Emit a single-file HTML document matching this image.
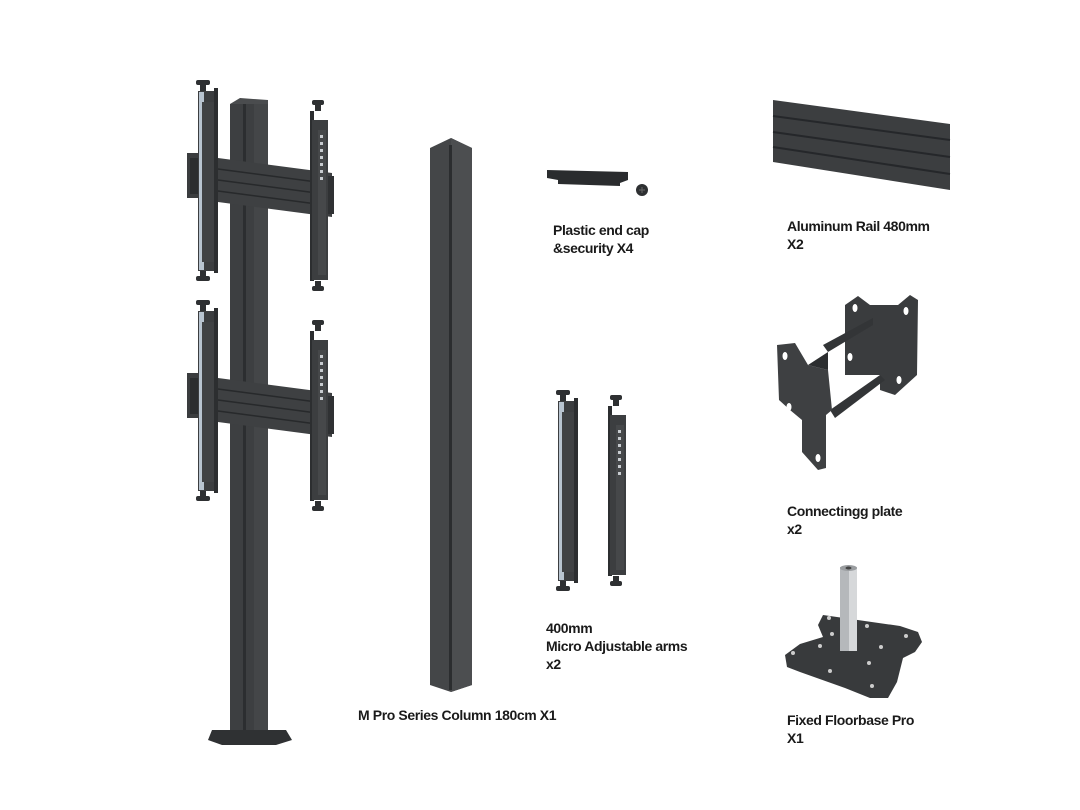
<!DOCTYPE html>
<html><head><meta charset="utf-8"><style>
html,body{margin:0;padding:0;background:#fff;}
svg{display:block;}
text{font-family:"Liberation Sans",sans-serif;font-weight:bold;font-size:14px;letter-spacing:-0.4px;fill:#1a1a1a;}
</style></head><body>
<svg width="1080" height="810" viewBox="0 0 1080 810" xmlns="http://www.w3.org/2000/svg">
<defs>
<g id="armL">
 <rect x="-4" y="0" width="14" height="5" rx="2" fill="#2e3032"/>
 <rect x="0" y="5" width="6" height="6" fill="#2e3032"/>
 <rect x="-2" y="11" width="18" height="180" fill="#3c3e40"/>
 <rect x="-1" y="12" width="5" height="178" fill="#b8c4d0"/>
 <rect x="2" y="22" width="12" height="160" fill="#404244"/>
 <rect x="14" y="8" width="4" height="185" fill="#2c2e30"/>
 <rect x="0" y="191" width="6" height="6" fill="#2e3032"/>
 <rect x="-4" y="196" width="14" height="5" rx="2" fill="#2e3032"/>
</g>
<g id="armR">
 <rect x="2" y="0" width="12" height="5" rx="2" fill="#2e3032"/>
 <rect x="5" y="5" width="6" height="6" fill="#2e3032"/>
 <rect x="0" y="11" width="4" height="170" fill="#2c2e30"/>
 <rect x="2" y="20" width="16" height="160" fill="#3c3e40"/>
 <rect x="8" y="30" width="8" height="145" fill="#46484a"/>
 <g fill="#c8ccd0"><rect x="10" y="35" width="3" height="3"/><rect x="10" y="42" width="3" height="3"/><rect x="10" y="49" width="3" height="3"/><rect x="10" y="56" width="3" height="3"/><rect x="10" y="63" width="3" height="3"/><rect x="10" y="70" width="3" height="3"/><rect x="10" y="77" width="3" height="3"/></g>
 <rect x="5" y="181" width="6" height="6" fill="#2e3032"/>
 <rect x="2" y="186" width="12" height="5" rx="2" fill="#2e3032"/>
</g>
<g id="set">
 <polygon points="187,153 218,153 218,198 187,198" fill="#3a3c3e"/>
 <rect x="190" y="158" width="8" height="36" fill="#2b2d2f"/>
 <use href="#armL" x="200" y="80"/>
 <polygon points="218,158 332,173 332,217 218,202" fill="#3e4042"/>
 <g stroke="#27292b" stroke-width="1.5"><line x1="218" y1="169" x2="332" y2="184"/><line x1="218" y1="180" x2="332" y2="195"/><line x1="218" y1="191" x2="332" y2="206"/></g>
 <use href="#armR" x="310" y="100"/>
 <rect x="328" y="176" width="6" height="38" fill="#2f3133"/>
</g>
</defs>
<!-- main column -->
<rect x="230" y="104" width="38" height="626" fill="#3d3f41"/>
<polygon points="230,104 240,98 268,100 268,104" fill="#4a4c4e"/>
<rect x="243" y="104" width="3" height="626" fill="#2c2e30"/>
<rect x="254" y="104" width="14" height="626" fill="#444648"/>
<polygon points="212,730 286,730 292,740 276,745 222,745 208,740" fill="#2f3133"/>
<use href="#set"/>
<use href="#set" transform="translate(0,220)"/>
<!-- middle column -->
<polygon points="430,148 451,138 472,148 472,685 451,692 430,685" fill="#444648"/>
<polygon points="451,138 472,148 472,685 451,692" fill="#4c4e50"/>
<rect x="449" y="145" width="3" height="545" fill="#2b2d2f"/>
<!-- end cap -->
<polygon points="547,170 628,172 628,180 620,183 620,186 558,184 558,180 547,178" fill="#2a2c2e"/>
<circle cx="642" cy="190" r="6" fill="#2e3032"/>
<path d="M639 190h6M642 187v6" stroke="#666" stroke-width="1"/>
<!-- micro arms -->
<use href="#armL" x="560" y="390"/>
<use href="#armR" x="608" y="395"/>
<!-- aluminum rail -->
<polygon points="773,100 950,124 950,190 773,162" fill="#3c3e40"/>
<g stroke="#25272a" stroke-width="2"><line x1="773" y1="116" x2="950" y2="140"/><line x1="773" y1="132" x2="950" y2="157"/><line x1="773" y1="147" x2="950" y2="174"/></g>
<!-- connecting plate -->
<polygon points="845,305 858,296 870,305 898,305 910,295 918,300 917,375 895,395 880,390 880,375 845,375" fill="#3a3c3e"/>
<polygon points="823,345 873,318 873,325 828,352" fill="#333537"/>
<polygon points="830,410 880,375 885,380 835,418" fill="#333537"/>
<polygon points="777,345 795,343 808,365 828,370 832,410 826,415 826,468 818,470 802,452 802,420 790,410 779,400" fill="#3e4042"/>
<polygon points="808,365 828,352 828,370" fill="#2c2e30"/>
<g fill="#fff"><ellipse cx="785" cy="356" rx="2.5" ry="4"/><ellipse cx="789" cy="407" rx="2.5" ry="4"/><ellipse cx="818" cy="458" rx="2.5" ry="4"/><ellipse cx="855" cy="308" rx="2.5" ry="4"/><ellipse cx="906" cy="311" rx="2.5" ry="4"/><ellipse cx="850" cy="357" rx="2.5" ry="4"/><ellipse cx="899" cy="380" rx="2.5" ry="4"/></g>
<!-- floorbase -->
<polygon points="823,615 900,626 918,632 922,642 915,652 903,658 897,682 888,698 870,698 845,688 800,672 787,667 785,655 800,644 823,637 818,625" fill="#383a3c"/>
<g fill="#ccc"><circle cx="829" cy="618" r="2"/><circle cx="867" cy="626" r="2"/><circle cx="906" cy="636" r="2"/><circle cx="832" cy="634" r="2"/><circle cx="820" cy="646" r="2"/><circle cx="881" cy="647" r="2"/><circle cx="793" cy="653" r="2"/><circle cx="869" cy="663" r="2"/><circle cx="830" cy="671" r="2"/><circle cx="872" cy="686" r="2"/></g>
<rect x="840" y="567" width="17" height="84" fill="#b5b8bb"/>
<rect x="849" y="567" width="8" height="84" fill="#d6d8da"/>
<ellipse cx="848.5" cy="568" rx="8.5" ry="3" fill="#9a9da0"/>
<ellipse cx="848.5" cy="568" rx="3" ry="1.5" fill="#444"/>
<!-- labels -->
<text x="553" y="235">Plastic end cap</text>
<text x="553" y="253">&amp;security X4</text>
<text x="787" y="231">Aluminum Rail 480mm</text>
<text x="787" y="249">X2</text>
<text x="787" y="516">Connectingg plate</text>
<text x="787" y="534">x2</text>
<text x="546" y="633">400mm</text>
<text x="546" y="651">Micro Adjustable arms</text>
<text x="546" y="669">x2</text>
<text x="358" y="720">M Pro Series Column 180cm X1</text>
<text x="787" y="725">Fixed Floorbase Pro</text>
<text x="787" y="743">X1</text>
</svg>
</body></html>
